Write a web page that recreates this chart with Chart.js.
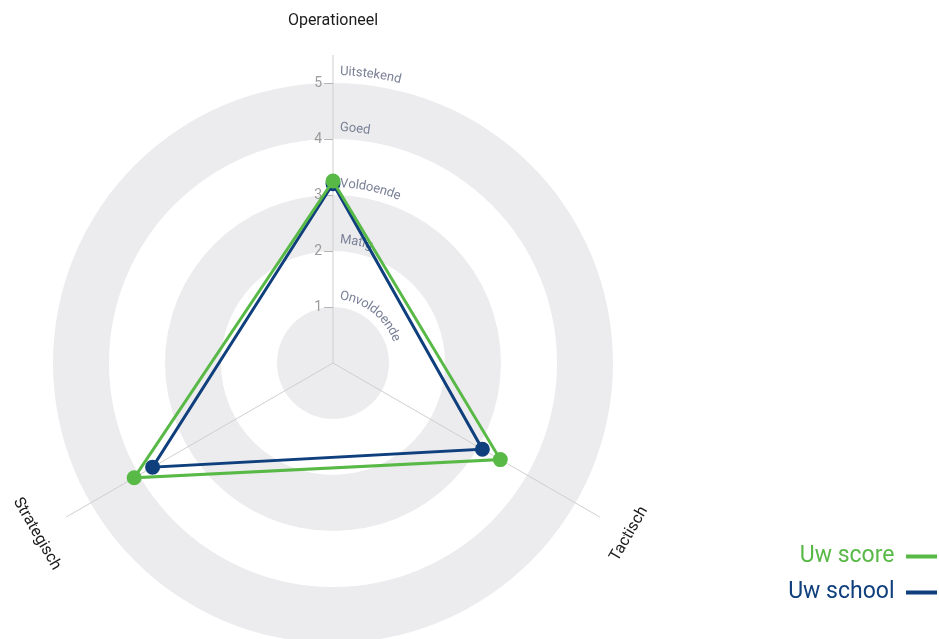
<!DOCTYPE html>
<html><head><meta charset="utf-8">
<script src="https://cdn.jsdelivr.net/npm/chart.js@4"></script>
<style>html,body{margin:0;padding:0;background:#fff;overflow:hidden}#wrap{width:939px;height:639px;position:relative}</style>
</head><body><div id="wrap"><canvas id="c"></canvas></div>
<script>
const categories = ['Operationeel', 'Tactisch', 'Strategisch'];
const seriesNames = ['Uw score', 'Uw school'];
const scoreValues = [3.25, 3.45, 4.1];
const schoolValues = [3.2, 3.08, 3.72];
const tickValues = [1, 2, 3, 4, 5];
const levelLabels = ['Onvoldoende', 'Matig', 'Voldoende', 'Goed', 'Uitstekend'];
const bandRanges = [[0, 1], [2, 3], [4, 5]];
const scaleMin = 0;
const scaleMax = 5.5;

const GREEN = '#58b947';
const BLUE = '#0f3f7c';
const FONT = 'Roboto';

const bandsPlugin = {
  id: 'bands',
  beforeDraw(chart) {
    const s = chart.scales.r;
    const ctx = chart.ctx;
    ctx.save();
    ctx.fillStyle = '#ececee';
    bandRanges.forEach(([a, b]) => {
      const r0 = s.getDistanceFromCenterForValue(a);
      const r1 = s.getDistanceFromCenterForValue(b);
      ctx.beginPath();
      ctx.arc(s.xCenter, s.yCenter, r1, 0, Math.PI * 2);
      if (r0 > 0) ctx.arc(s.xCenter, s.yCenter, r0, 0, Math.PI * 2, true);
      ctx.fill('evenodd');
    });
    ctx.restore();
  },
  beforeDatasetsDraw(chart) {
    const s = chart.scales.r;
    const ctx = chart.ctx;
    ctx.save();
    ctx.strokeStyle = '#b5b5b5';
    ctx.lineWidth = 1;
    ctx.fillStyle = '#9b9b9b';
    ctx.font = '14px ' + FONT;
    ctx.textAlign = 'right';
    ctx.textBaseline = 'middle';
    tickValues.forEach(v => {
      const p = s.getPointPositionForValue(0, v);
      ctx.beginPath();
      ctx.moveTo(p.x - 9, Math.round(p.y) + 0.5);
      ctx.lineTo(p.x, Math.round(p.y) + 0.5);
      ctx.stroke();
      ctx.fillText(String(v), p.x - 11, p.y);
    });
    ctx.fillStyle = '#7a8197';
    ctx.font = '13px ' + FONT;
    ctx.textAlign = 'center';
    tickValues.forEach((v, i) => {
      const R = s.getDistanceFromCenterForValue(v + 0.2);
      let a = -Math.PI / 2 + 7 / R;
      for (const ch of levelLabels[i]) {
        const w = ctx.measureText(ch).width;
        const mid = a + (w / 2) / R;
        ctx.save();
        ctx.translate(s.xCenter + R * Math.cos(mid), s.yCenter + R * Math.sin(mid));
        ctx.rotate(mid + Math.PI / 2);
        ctx.fillText(ch, 0, 0);
        ctx.restore();
        a += w / R;
      }
    });
    ctx.restore();
  },
  afterDraw(chart) {
    const s = chart.scales.r;
    const ctx = chart.ctx;
    ctx.save();
    ctx.fillStyle = '#1c1c1c';
    ctx.font = '16px ' + FONT;
    ctx.textAlign = 'center';
    ctx.textBaseline = 'middle';
    categories.forEach((lab, i) => {
      const p = s.getPointPosition(i, s.drawingArea + 34);
      let rot = p.angle - Math.PI / 2;
      while (rot <= -Math.PI / 2) rot += Math.PI;
      while (rot > Math.PI / 2) rot -= Math.PI;
      ctx.save();
      ctx.translate(p.x, p.y);
      ctx.rotate(rot);
      ctx.fillText(lab, 0, 0);
      ctx.restore();
    });
    ctx.restore();
  }
};

new Chart(document.getElementById('c'), {
  type: 'radar',
  data: {
    labels: categories,
    datasets: [
      { label: seriesNames[0], data: scoreValues, borderColor: GREEN, backgroundColor: GREEN,
        pointBackgroundColor: GREEN, pointBorderColor: GREEN, borderWidth: 3, pointRadius: 6,
        fill: false, clip: false },
      { label: seriesNames[1], data: schoolValues, borderColor: BLUE, backgroundColor: BLUE,
        pointBackgroundColor: BLUE, pointBorderColor: BLUE, borderWidth: 3, pointRadius: 6,
        fill: false, clip: false }
    ]
  },
  options: {
    responsive: true,
    maintainAspectRatio: false,
    animation: false,
    layout: { padding: { right: -11, bottom: 22 } },
    elements: { line: { tension: 0 } },
    scales: {
      r: {
        min: scaleMin, max: scaleMax,
        ticks: { display: false, stepSize: 1 },
        grid: { display: false },
        angleLines: { display: true, color: '#cfcfcf', lineWidth: 1 },
        pointLabels: { display: false },
        afterFit(scale) {
          scale.xCenter = 333;
          scale.yCenter = 363;
          scale.drawingArea = 308;
        }
      }
    },
    plugins: {
      tooltip: { enabled: false },
      legend: {
        position: 'right', align: 'end', rtl: true,
        labels: {
          boxWidth: 31, boxHeight: 4, padding: 13,
          font: { family: FONT, size: 23 },
          generateLabels(chart) {
            return chart.data.datasets.map((ds, i) => ({
              text: ds.label, fillStyle: ds.borderColor, strokeStyle: ds.borderColor,
              lineWidth: 0, fontColor: ds.borderColor, datasetIndex: i, hidden: false
            }));
          }
        }
      }
    }
  },
  plugins: [bandsPlugin]
});
</script>
</body></html>
